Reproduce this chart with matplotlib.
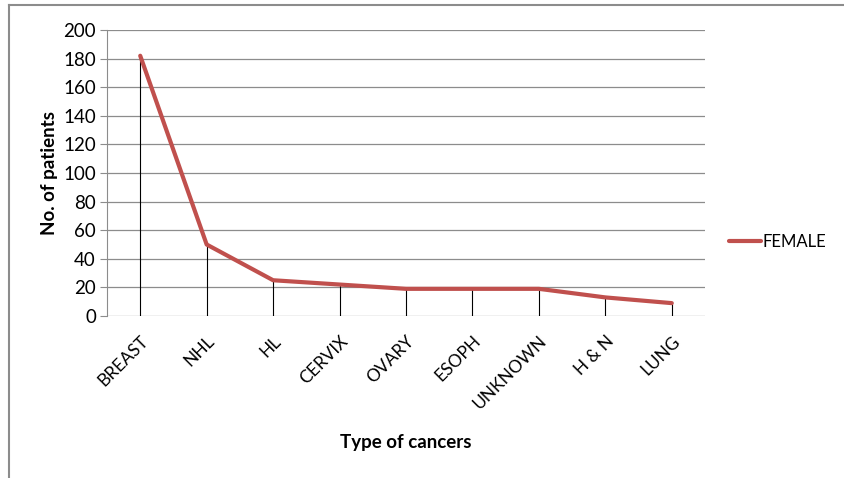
import matplotlib.pyplot as plt
from matplotlib.lines import Line2D

# Data
cancers = ['BREAST', 'NHL', 'HL', 'CERVIX', 'OVARY', 'ESOPH', 'UNKNOWN', 'H & N', 'LUNG']
female = [182, 50, 25, 22, 19, 19, 19, 13, 9]
y_ticks = list(range(0, 201, 20))

plt.rcParams['font.family'] = ['Lato', 'DejaVu Sans']

fig = plt.figure(figsize=(8.44, 4.78), dpi=100)
ax = fig.add_axes([107 / 844, 1 - 316 / 478, 598 / 844, 286 / 478])

x = list(range(len(cancers)))

# horizontal gridlines
for t in y_ticks:
    ax.axhline(t, color='#8c8c8c', lw=0.9, zorder=1)

# drop lines from each point to the axis
ax.vlines(x, 0, female, color='black', lw=0.8, zorder=2)

ax.plot(x, female, color='#c0504d', lw=3, solid_capstyle='round', zorder=3, label='FEMALE')

ax.set_xlim(-0.5, len(cancers) - 0.5)
ax.set_ylim(0, 200)
ax.set_yticks(y_ticks)
ax.set_xticks(x)
ax.set_xticklabels(cancers, rotation=45, ha='right', rotation_mode='anchor', fontsize=12.5)
ax.tick_params(axis='y', labelsize=13.5, length=5, color='#8c8c8c', pad=3)
ax.tick_params(axis='x', length=0, pad=12)

for s in ['top', 'right', 'bottom']:
    ax.spines[s].set_visible(False)
ax.spines['left'].set_color('#8c8c8c')

ax.set_ylabel('No. of patients', fontsize=13.5, fontweight='bold', labelpad=4)
ax.set_xlabel('Type of cancers', fontsize=13.5, fontweight='bold', labelpad=16)

ax.legend(loc='center left', bbox_to_anchor=(1.015, 0.26), frameon=False,
          fontsize=12, handlelength=1.9, handletextpad=0.1)

# outer chart frame (top and left edges visible)
fig.add_artist(Line2D([9 / 844, 1], [1 - 5 / 478, 1 - 5 / 478], transform=fig.transFigure,
                      color='#8c8c8c', lw=1.5))
fig.add_artist(Line2D([9 / 844, 9 / 844], [0, 1 - 5 / 478], transform=fig.transFigure,
                      color='#8c8c8c', lw=1.5))

fig.savefig('out.png', dpi=100)
